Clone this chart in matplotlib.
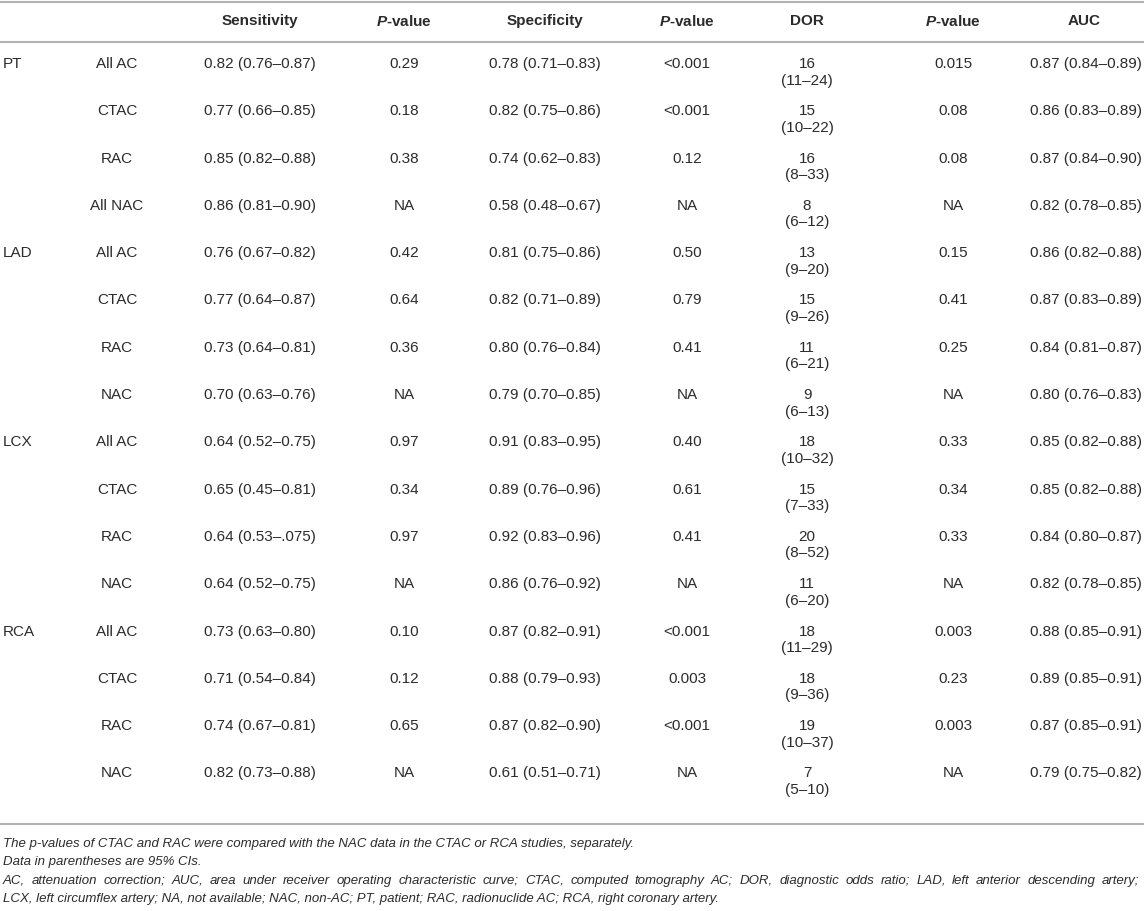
import matplotlib
matplotlib.use("Agg")
import matplotlib.pyplot as plt

plt.rcParams['font.family'] = ['Liberation Sans', 'DejaVu Sans']
plt.rcParams['mathtext.fontset'] = 'custom'
plt.rcParams['mathtext.rm'] = 'Liberation Sans'
plt.rcParams['mathtext.it'] = 'Liberation Sans:italic'
plt.rcParams['mathtext.bf'] = 'Liberation Sans:bold'
plt.rcParams['mathtext.bfit'] = 'Liberation Sans:italic:bold'

# ---------------- data ----------------
headers = ["Sensitivity", "$\\mathbfit{P}$-value", "Specificity", "$\\mathbfit{P}$-value",
           "DOR", "$\\mathbfit{P}$-value", "AUC"]
groups = ["PT", "", "", "", "LAD", "", "", "", "LCX", "", "", "", "RCA", "", "", ""]
methods = ["All AC", "CTAC", "RAC", "All NAC",
           "All AC", "CTAC", "RAC", "NAC",
           "All AC", "CTAC", "RAC", "NAC",
           "All AC", "CTAC", "RAC", "NAC"]
sensitivity = ["0.82 (0.76–0.87)", "0.77 (0.66–0.85)", "0.85 (0.82–0.88)", "0.86 (0.81–0.90)",
               "0.76 (0.67–0.82)", "0.77 (0.64–0.87)", "0.73 (0.64–0.81)", "0.70 (0.63–0.76)",
               "0.64 (0.52–0.75)", "0.65 (0.45–0.81)", "0.64 (0.53–.075)", "0.64 (0.52–0.75)",
               "0.73 (0.63–0.80)", "0.71 (0.54–0.84)", "0.74 (0.67–0.81)", "0.82 (0.73–0.88)"]
p_sens = ["0.29", "0.18", "0.38", "NA", "0.42", "0.64", "0.36", "NA",
          "0.97", "0.34", "0.97", "NA", "0.10", "0.12", "0.65", "NA"]
specificity = ["0.78 (0.71–0.83)", "0.82 (0.75–0.86)", "0.74 (0.62–0.83)", "0.58 (0.48–0.67)",
               "0.81 (0.75–0.86)", "0.82 (0.71–0.89)", "0.80 (0.76–0.84)", "0.79 (0.70–0.85)",
               "0.91 (0.83–0.95)", "0.89 (0.76–0.96)", "0.92 (0.83–0.96)", "0.86 (0.76–0.92)",
               "0.87 (0.82–0.91)", "0.88 (0.79–0.93)", "0.87 (0.82–0.90)", "0.61 (0.51–0.71)"]
p_spec = ["<0.001", "<0.001", "0.12", "NA", "0.50", "0.79", "0.41", "NA",
          "0.40", "0.61", "0.41", "NA", "<0.001", "0.003", "<0.001", "NA"]
dor = ["16", "15", "16", "8", "13", "15", "11", "9",
       "18", "15", "20", "11", "18", "18", "19", "7"]
dor_ci = ["(11–24)", "(10–22)", "(8–33)", "(6–12)", "(9–20)", "(9–26)", "(6–21)", "(6–13)",
          "(10–32)", "(7–33)", "(8–52)", "(6–20)", "(11–29)", "(9–36)", "(10–37)", "(5–10)"]
p_dor = ["0.015", "0.08", "0.08", "NA", "0.15", "0.41", "0.25", "NA",
         "0.33", "0.34", "0.33", "NA", "0.003", "0.23", "0.003", "NA"]
auc = ["0.87 (0.84–0.89)", "0.86 (0.83–0.89)", "0.87 (0.84–0.90)", "0.82 (0.78–0.85)",
       "0.86 (0.82–0.88)", "0.87 (0.83–0.89)", "0.84 (0.81–0.87)", "0.80 (0.76–0.83)",
       "0.85 (0.82–0.88)", "0.85 (0.82–0.88)", "0.84 (0.80–0.87)", "0.82 (0.78–0.85)",
       "0.88 (0.85–0.91)", "0.89 (0.85–0.91)", "0.87 (0.85–0.91)", "0.79 (0.75–0.82)"]
footnotes = [
    "The p-values of CTAC and RAC were compared with the NAC data in the CTAC or RCA studies, separately.",
    "Data in parentheses are 95% CIs.",
    "AC, attenuation correction; AUC, area under receiver operating characteristic curve; CTAC, computed tomography AC; DOR, diagnostic odds ratio; LAD, left anterior descending artery;",
    "LCX, left circumflex artery; NA, not available; NAC, non-AC; PT, patient; RAC, radionuclide AC; RCA, right coronary artery.",
]
justified = [False, False, True, False]

# ---------------- layout ----------------
W, H = 1144, 912
fig = plt.figure(figsize=(W / 100, H / 100), dpi=100)
ax = fig.add_axes([0, 0, 1, 1])
ax.set_xlim(0, W)
ax.set_ylim(H, 0)
ax.axis("off")

txt = "#2b2b2b"
rule = "#b3b3b3"
fs = 11.0
ffs = 9.5

x_group = 3
x_method = 117
header_x = [260, 404, 545, 687, 807, 953, 1084]
value_x = [260, 404, 545, 687, 807, 953, 1086]

# rules
for y in (3, 43, 825):
    ax.plot([0, W], [y, y], color=rule, lw=1.5, solid_capstyle="butt")

# header
for hx, h in zip(header_x, headers):
    ax.text(hx, 21, h, ha="center", va="center", fontsize=fs, fontweight="bold", color=txt)

y0, dy = 64, 47.3
cols = [sensitivity, p_sens, specificity, p_spec, dor, p_dor, auc]
for i in range(len(methods)):
    y = y0 + i * dy
    if groups[i]:
        ax.text(x_group, y, groups[i], ha="left", va="center", fontsize=fs, color=txt)
    ax.text(x_method, y, methods[i], ha="center", va="center", fontsize=fs, color=txt)
    for j, col in enumerate(cols):
        ax.text(value_x[j], y, col[i], ha="center", va="center", fontsize=fs, color=txt)
    ax.text(value_x[4], y + 16.5, dor_ci[i], ha="center", va="center", fontsize=fs, color=txt)

# footnotes
fig.canvas.draw()
renderer = fig.canvas.get_renderer()
fy0, fdy = 844, 18.5
x_left, x_right = 3, 1139
for k, line in enumerate(footnotes):
    fy = fy0 + k * fdy
    if not justified[k]:
        ax.text(x_left, fy, line, ha="left", va="center", fontsize=ffs,
                fontstyle="italic", color=txt)
        continue
    words = line.split(" ")
    objs = [ax.text(0, fy, w, ha="left", va="center", fontsize=ffs,
                    fontstyle="italic", color=txt) for w in words]
    widths = [o.get_window_extent(renderer).width for o in objs]
    gap = (x_right - x_left - sum(widths)) / (len(words) - 1)
    x = x_left
    for o, wd in zip(objs, widths):
        o.set_x(x)
        x += wd + gap

fig.savefig("out.png", dpi=100, facecolor="white")
